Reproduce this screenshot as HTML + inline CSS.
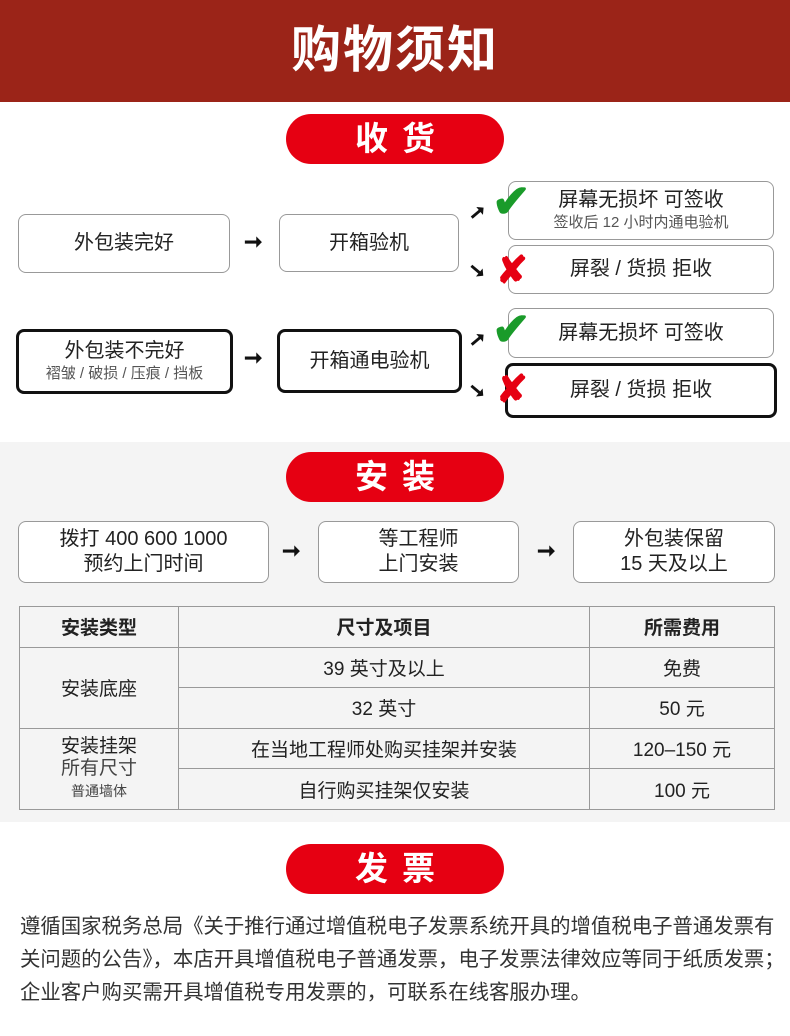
<!DOCTYPE html>
<html><head><meta charset="utf-8"><style>
*{margin:0;padding:0;box-sizing:border-box}
body{width:790px;height:1036px;background:#fff;position:relative;font-family:"Liberation Sans","Noto Sans CJK SC",sans-serif;color:#222;overflow:hidden}
.a{position:absolute}
.hdr{left:0;top:0;width:790px;height:102px;background:#9b2418;color:#fff;font-size:50px;font-weight:bold;text-align:center;line-height:100px;letter-spacing:2px}
.pill{width:218px;height:50px;left:286px;background:#e60012;border-radius:25px;color:#fff;font-size:33px;font-weight:bold;text-align:center;line-height:50px;letter-spacing:14px;text-indent:14px}
.box{border:1px solid #999;border-radius:8px;background:#fff;display:flex;flex-direction:column;justify-content:center;align-items:center;font-size:20px;line-height:25px}
.b{border:3px solid #111}
.s{font-size:15px;color:#555;line-height:20px}
.arr{font-size:22px;font-weight:bold;color:#111}
.sa{font-size:20px}
.gray{left:0;top:442px;width:790px;height:380px;background:#f4f4f4}
table{position:absolute;left:19px;top:606px;width:756px;border-collapse:collapse;background:#f4f4f4}
td{border:1px solid #999;text-align:center;font-size:19px;height:40.6px;padding:0}
.chk{color:#1a9b2a;font-size:46px;font-weight:bold;line-height:46px}
.x{color:#e60012;font-size:38px;font-weight:bold;line-height:38px}
</style></head><body>
<div class="a hdr">购物须知</div>
<div class="a pill" style="top:114px">收货</div>

<div class="a box" style="left:18px;top:214px;width:212px;height:59px">外包装完好</div>
<div class="a arr" style="left:244px;top:229px">➞</div>
<div class="a box" style="left:279px;top:214px;width:180px;height:58px">开箱验机</div>
<div class="a arr sa" style="left:469px;top:200px;transform:rotate(-40deg)">➞</div>
<div class="a arr sa" style="left:469px;top:258px;transform:rotate(40deg)">➞</div>
<div class="a box" style="left:508px;top:181px;width:266px;height:59px"><div>屏幕无损坏 可签收</div><div class="s">签收后 12 小时内通电验机</div></div>
<div class="a box" style="left:508px;top:245px;width:266px;height:49px">屏裂 / 货损 拒收</div>
<div class="a chk" style="left:492px;top:178px">✔</div>
<div class="a x" style="left:496px;top:252px">✘</div>

<div class="a box b" style="left:16px;top:329px;width:217px;height:65px"><div>外包装不完好</div><div class="s">褶皱 / 破损 / 压痕 / 挡板</div></div>
<div class="a arr" style="left:244px;top:345px">➞</div>
<div class="a box b" style="left:277px;top:329px;width:185px;height:64px">开箱通电验机</div>
<div class="a arr sa" style="left:469px;top:327px;transform:rotate(-40deg)">➞</div>
<div class="a arr sa" style="left:469px;top:378px;transform:rotate(40deg)">➞</div>
<div class="a box" style="left:508px;top:308px;width:266px;height:50px">屏幕无损坏 可签收</div>
<div class="a box b" style="left:505px;top:363px;width:272px;height:55px">屏裂 / 货损 拒收</div>
<div class="a chk" style="left:492px;top:306px">✔</div>
<div class="a x" style="left:496px;top:371px">✘</div>

<div class="a gray"></div>
<div class="a pill" style="top:452px">安装</div>
<div class="a box" style="left:18px;top:521px;width:251px;height:62px"><div>拨打 400 600 1000</div><div>预约上门时间</div></div>
<div class="a arr" style="left:282px;top:538px">➞</div>
<div class="a box" style="left:318px;top:521px;width:201px;height:62px"><div>等工程师</div><div>上门安装</div></div>
<div class="a arr" style="left:537px;top:538px">➞</div>
<div class="a box" style="left:573px;top:521px;width:202px;height:62px"><div>外包装保留</div><div>15 天及以上</div></div>

<table>
<tr><td style="width:159px;font-weight:bold">安装类型</td><td style="width:411px;font-weight:bold">尺寸及项目</td><td style="font-weight:bold">所需费用</td></tr>
<tr><td rowspan="2">安装底座</td><td>39 英寸及以上</td><td>免费</td></tr>
<tr><td>32 英寸</td><td>50 元</td></tr>
<tr><td rowspan="2" style="line-height:22px">安装挂架<br><span style="color:#444">所有尺寸</span><br><span style="font-size:14px;color:#444">普通墙体</span></td><td>在当地工程师处购买挂架并安装</td><td>120–150 元</td></tr>
<tr><td>自行购买挂架仅安装</td><td>100 元</td></tr>
</table>

<div class="a pill" style="top:844px">发票</div>
<div class="a" style="left:20px;top:911px;width:770px;font-size:20.4px;line-height:33px;color:#333;white-space:nowrap">遵循国家税务总局《关于推行通过增值税电子发票系统开具的增值税电子普通发票有<br>关问题的公告》，本店开具增值税电子普通发票，电子发票法律效应等同于纸质发票；<br>企业客户购买需开具增值税专用发票的，可联系在线客服办理。</div>
</body></html>
